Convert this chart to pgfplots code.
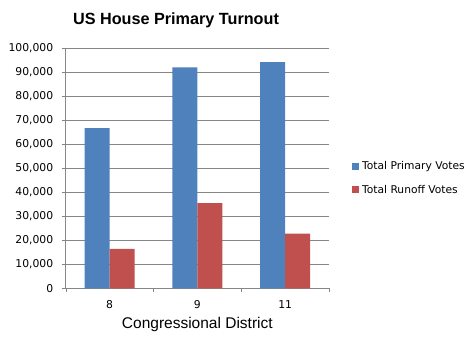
\documentclass[border=0pt]{standalone}
\usepackage{pgfplots}
\pgfplotsset{compat=1.18}
\usepackage{fontspec}
\setmainfont{Liberation Sans}
\newfontfamily\vfont{DejaVu Sans}
\definecolor{xblue}{HTML}{4F81BD}
\definecolor{xred}{HTML}{C0504D}
\definecolor{gridgray}{HTML}{868686}
\begin{document}
\begin{tikzpicture}[x=1bp,y=1bp]
\useasboundingbox (0,0) rectangle (476,350);
\node[font=\bfseries\fontsize{16.2bp}{19bp}\selectfont] at (176,329.3) {US House Primary Turnout};
\begin{axis}[
  at={(65.7bp,61.7bp)}, anchor=south west,
  scale only axis, width=263.3bp, height=240bp,
  ybar=0pt, bar width=25bp,
  xmin=0.5, xmax=3.5, ymin=0, ymax=100000,
  xtick={1,2,3}, xticklabels={8,9,11},
  major x tick style={draw=none},
  extra x ticks={0.5,1.5,2.5,3.5},
  extra x tick style={xticklabel={}, major x tick style={draw=gridgray}, grid=none},
  ytick distance=10000,
  ymajorgrids, grid style={gridgray, line width=0.6bp},
  axis lines=left, axis line style={-, draw=gridgray, line width=0.6bp},
  tick align=outside, major tick length=4bp,
  ytick style={draw=gridgray, line width=0.6bp},
  scaled y ticks=false,
  /pgf/number format/.cd, fixed, 1000 sep={,}, assume math mode=true, /pgfplots/.cd,
  tick label style={font=\vfont\fontsize{10.8bp}{13bp}\selectfont},
  yticklabel style={xshift=-5bp},
  xticklabel style={yshift=-5bp},
  xlabel={Congressional District},
  xlabel style={font=\fontsize{15.5bp}{18bp}\selectfont, at={(axis description cs:0.5,0)}, anchor=center, yshift=-36bp},
  legend style={draw=none, fill=none, at={(1.087,0.46)}, anchor=west,
    font=\vfont\fontsize{10.7bp}{13bp}\selectfont, row sep=14bp, inner sep=0pt,
    nodes={inner sep=0pt}, column sep=3bp},
  legend cell align=left,
  legend image code/.code={\fill (0bp,-3.5bp) rectangle (7bp,3.5bp);},
]
\addplot[draw=none, fill=xblue] coordinates {(1,66700) (2,92100) (3,94200)};
\addplot[draw=none, fill=xred] coordinates {(1,16400) (2,35500) (3,22800)};
\legend{Total Primary Votes, Total Runoff Votes}
\end{axis}
\end{tikzpicture}
\end{document}
